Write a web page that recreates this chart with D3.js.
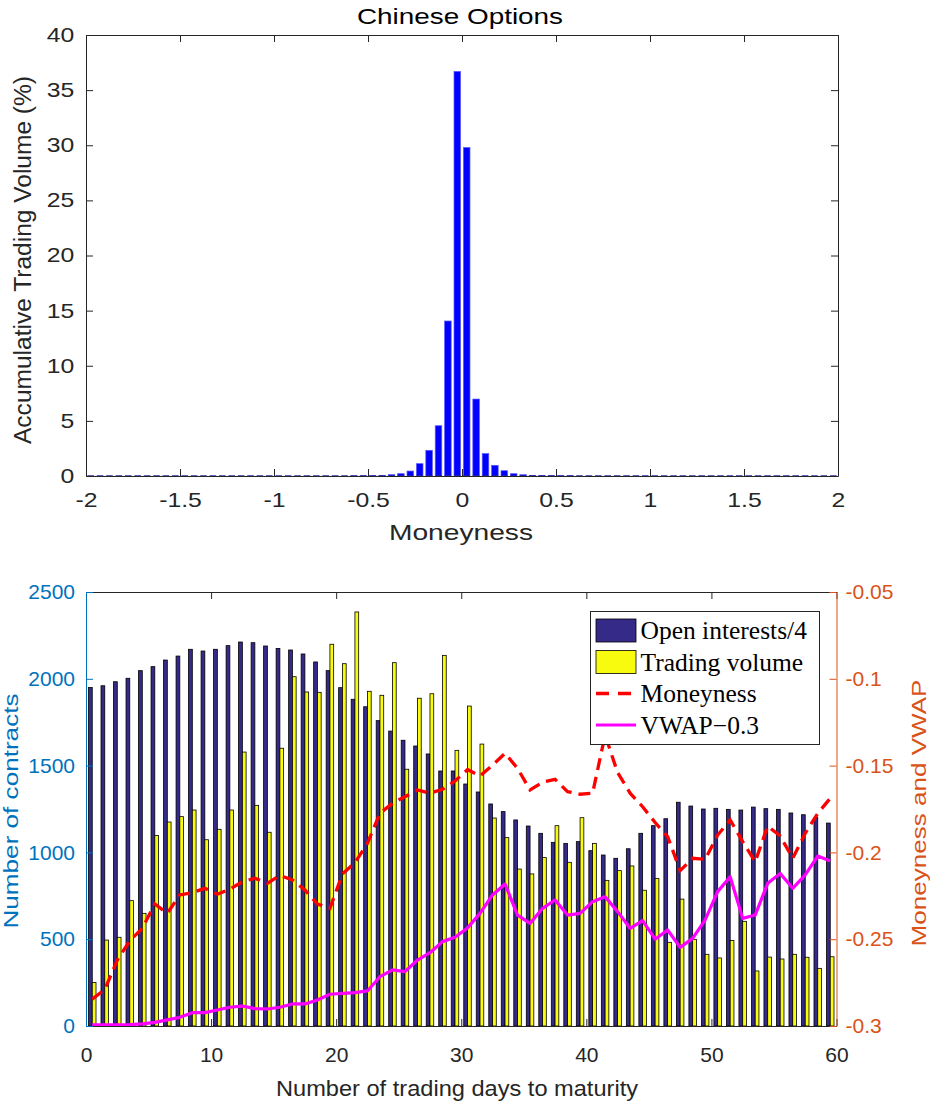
<!DOCTYPE html>
<html>
<head>
<meta charset="utf-8">
<script src="https://cdn.jsdelivr.net/npm/d3@7"></script>
<style>
  body { margin: 0; background: #fff; }
  svg { display: block; }
</style>
</head>
<body>
<svg id="fig" width="930" height="1107"></svg>
<script>
// ---------- Panel 1: trading volume by moneyness bin ----------
const moneynessBins = [
  -1.975,-1.925,-1.875,-1.825,-1.775,-1.725,-1.675,-1.625,-1.575,-1.525,
  -1.475,-1.425,-1.375,-1.325,-1.275,-1.225,-1.175,-1.125,-1.075,-1.025,
  -0.975,-0.925,-0.875,-0.825,-0.775,-0.725,-0.675,-0.625,-0.575,-0.525,
  -0.475,-0.425,-0.375,-0.325,-0.275,-0.225,-0.175,-0.125,-0.075,-0.025,
   0.025, 0.075, 0.125, 0.175, 0.225, 0.275, 0.325, 0.375, 0.425, 0.475,
   0.525, 0.575, 0.625, 0.675, 0.725, 0.775, 0.825, 0.875, 0.925, 0.975,
   1.025, 1.075, 1.125, 1.175, 1.225, 1.275, 1.325, 1.375, 1.425, 1.475,
   1.525, 1.575, 1.625, 1.675, 1.725, 1.775, 1.825, 1.875, 1.925, 1.975
];
const volumeShare = [
  0,0,0,0,0,0,0,0,0,0,
  0,0,0,0,0,0,0,0,0,0,
  0,0,0,0,0,0,0,0,0.01,0.01,
  0.02,0.05,0.12,0.21,0.45,1.12,2.33,4.56,14.06,36.7,
  29.8,6.98,2.03,0.97,0.48,0.21,0.12,0.06,0.03,0.02,
  0.01,0.01,0,0,0,0,0,0,0,0,
  0,0,0,0,0,0,0,0,0,0,
  0,0,0,0,0,0,0,0,0,0
];
const binWidth = 0.05;
const topXTicks = [-2, -1.5, -1, -0.5, 0, 0.5, 1, 1.5, 2];
const topYTicks = [0, 5, 10, 15, 20, 25, 30, 35, 40];

// ---------- Panel 2: contracts, moneyness and VWAP by days to maturity ----------
const days = [
  0.5,1.5,2.5,3.5,4.5,5.5,6.5,7.5,8.5,9.5,
  10.5,11.5,12.5,13.5,14.5,15.5,16.5,17.5,18.5,19.5,
  20.5,21.5,22.5,23.5,24.5,25.5,26.5,27.5,28.5,29.5,
  30.5,31.5,32.5,33.5,34.5,35.5,36.5,37.5,38.5,39.5,
  40.5,41.5,42.5,43.5,44.5,45.5,46.5,47.5,48.5,49.5,
  50.5,51.5,52.5,53.5,54.5,55.5,56.5,57.5,58.5,59.5
];
const openInterestQuarter = [
  1950,1960,1983,2003,2047,2070,2108,2131,2170,2160,
  2170,2191,2212,2208,2189,2175,2166,2143,2097,2047,
  1949,1882,1839,1759,1699,1646,1613,1567,1469,1469,
  1394,1348,1279,1235,1187,1152,1110,1058,1052,1062,
  1010,985,966,1021,1110,1154,1194,1289,1267,1250,
  1254,1248,1244,1261,1252,1248,1227,1217,1202,1169
];
const tradingVolume = [
  251,495,511,722,649,1098,1175,1206,1244,1073,
  1133,1244,1578,1271,1116,1600,2012,1924,1922,2199,
  2087,2385,1928,1905,2093,1479,1888,1914,2135,1588,
  1843,1624,1198,1085,904,876,970,1154,943,1200,
  1052,839,895,922,782,849,482,731,499,413,
  392,492,603,317,397,386,413,396,332,399
];
const moneyness = [
  -0.2845,-0.279,-0.262,-0.2509,-0.2437,-0.2297,-0.2351,-0.2245,-0.2232,-0.2207,
  -0.2241,-0.2212,-0.2169,-0.2149,-0.2178,-0.2132,-0.2159,-0.2217,-0.2297,-0.2322,
  -0.2124,-0.2059,-0.1948,-0.1775,-0.1717,-0.1679,-0.164,-0.1659,-0.1636,-0.1589,
  -0.1523,-0.156,-0.1497,-0.1429,-0.1516,-0.164,-0.1596,-0.1579,-0.165,-0.1665,
  -0.1659,-0.1324,-0.1540,-0.1659,-0.1737,-0.1828,-0.1909,-0.2105,-0.2034,-0.204,
  -0.19,-0.1813,-0.1938,-0.2054,-0.1848,-0.1906,-0.2034,-0.189,-0.1775,-0.1688
];
const vwapShifted = [
  -0.2994,-0.2994,-0.2994,-0.2992,-0.2988,-0.2979,-0.2965,-0.295,-0.2923,-0.2923,
  -0.2908,-0.2892,-0.2885,-0.29,-0.2902,-0.2892,-0.2873,-0.2873,-0.285,-0.2817,
  -0.2812,-0.2808,-0.2798,-0.2716,-0.2677,-0.2687,-0.262,-0.2578,-0.2514,-0.2489,
  -0.2435,-0.2351,-0.2245,-0.2182,-0.2361,-0.2409,-0.2322,-0.2274,-0.2361,-0.2351,
  -0.2284,-0.2255,-0.2341,-0.2437,-0.2393,-0.25,-0.2447,-0.2547,-0.2495,-0.2389,
  -0.2226,-0.214,-0.238,-0.2361,-0.2178,-0.2121,-0.2207,-0.213,-0.2021,-0.205
];
const bottomXTicks = [0, 10, 20, 30, 40, 50, 60];
const leftTicks = [0, 500, 1000, 1500, 2000, 2500];
const rightTicks = [-0.3, -0.25, -0.2, -0.15, -0.1, -0.05];
const legendLabels = ["Open interests/4", "Trading volume", "Moneyness", "VWAP\u22120.3"];

// ---------- shared styling ----------
const SANS = "'Liberation Sans', Arial, Helvetica, sans-serif";
const SERIF = "'Liberation Serif', 'Times New Roman', serif";
const AX = "#262626";
const BLUE_AX = "#0072BD";
const ORANGE_AX = "#D95319";
const NAVY = "#352a87";
const YELLOW = "#f9fb0e";

const svg = d3.select("#fig");

function styleAxis(g, color, fontSize, textScaleX) {
  g.select(".domain").attr("stroke", color).attr("stroke-width", 1);
  g.selectAll(".tick line").attr("stroke", color).attr("stroke-width", 1);
  g.selectAll(".tick text")
    .attr("fill", color)
    .attr("font-family", SANS)
    .attr("font-size", fontSize)
    .attr("transform", textScaleX ? `scale(${textScaleX},1)` : null);
}

// ===== Panel 1 =====
const xT = d3.scaleLinear().domain([-2, 2]).range([86, 838]);
const yT = d3.scaleLinear().domain([0, 40]).range([476, 35]);
const fmt = d => String(d);
const TOP_SCALE = 1.24;

const p1 = svg.append("g");

const bins = moneynessBins.map((m, i) => ({ m, v: volumeShare[i] }));
p1.append("g").selectAll("rect")
  .data(bins.filter(d => d.v > 0))
  .join("rect")
  .attr("x", d => xT(d.m - binWidth * 0.35))
  .attr("width", d => xT(d.m + binWidth * 0.35) - xT(d.m - binWidth * 0.35))
  .attr("y", d => yT(d.v))
  .attr("height", d => yT(0) - yT(d.v))
  .attr("fill", "#0000ff")
  .attr("stroke", "#5a5aff")
  .attr("stroke-width", 0.7);

// bar bases along the zero line
p1.append("g").selectAll("line")
  .data(bins)
  .join("line")
  .attr("x1", d => xT(d.m - binWidth * 0.35))
  .attr("x2", d => xT(d.m + binWidth * 0.35))
  .attr("y1", yT(0)).attr("y2", yT(0))
  .attr("stroke", "#1a1aa0")
  .attr("stroke-width", 1.4);

p1.append("g").attr("transform", `translate(0,${yT(0)})`)
  .call(d3.axisBottom(xT).tickValues(topXTicks).tickFormat(fmt)
    .tickSizeInner(-7).tickSizeOuter(0).tickPadding(17))
  .call(g => styleAxis(g, AX, 20, TOP_SCALE));
p1.append("g").attr("transform", `translate(0,${yT(40)})`)
  .call(d3.axisTop(xT).tickValues(topXTicks).tickFormat("")
    .tickSizeInner(-7).tickSizeOuter(0))
  .call(g => styleAxis(g, AX, 20));
p1.append("g").attr("transform", `translate(${xT(-2)},0)`)
  .call(d3.axisLeft(yT).tickValues(topYTicks).tickFormat(fmt)
    .tickSizeInner(-7).tickSizeOuter(0).tickPadding(9.5))
  .call(g => styleAxis(g, AX, 20, TOP_SCALE));
p1.append("g").attr("transform", `translate(${xT(2)},0)`)
  .call(d3.axisRight(yT).tickValues(topYTicks).tickFormat("")
    .tickSizeInner(-7).tickSizeOuter(0))
  .call(g => styleAxis(g, AX, 20));

p1.append("text")
  .attr("x", 460).attr("y", 24)
  .attr("text-anchor", "middle")
  .attr("font-family", SANS).attr("font-size", 22).attr("fill", "#000")
  .attr("textLength", 206).attr("lengthAdjust", "spacingAndGlyphs")
  .text("Chinese Options");

p1.append("text")
  .attr("x", 461).attr("y", 540)
  .attr("text-anchor", "middle")
  .attr("font-family", SANS).attr("font-size", 22).attr("fill", AX)
  .attr("textLength", 144).attr("lengthAdjust", "spacingAndGlyphs")
  .text("Moneyness");

p1.append("text")
  .attr("transform", "translate(31,260) rotate(-90)")
  .attr("text-anchor", "middle")
  .attr("font-family", SANS).attr("font-size", 23).attr("fill", AX)
  .attr("textLength", 368).attr("lengthAdjust", "spacingAndGlyphs")
  .text("Accumulative Trading Volume (%)");

// ===== Panel 2 =====
const xB = d3.scaleLinear().domain([0, 60]).range([86, 836.5]);
const yL = d3.scaleLinear().domain([0, 2500]).range([1026, 592]);
const yR = d3.scaleLinear().domain([-0.3, -0.05]).range([1026, 592]);

const p2 = svg.append("g");

const groups = days.map((d, i) => ({
  d, oi: openInterestQuarter[i], vol: tradingVolume[i],
  mon: moneyness[i], vwap: vwapShifted[i]
}));

const barW = 0.3;
p2.append("g").selectAll("rect")
  .data(groups)
  .join("rect")
  .attr("x", g => xB(g.d - barW))
  .attr("width", g => xB(g.d) - xB(g.d - barW))
  .attr("y", g => yL(g.oi))
  .attr("height", g => yL(0) - yL(g.oi))
  .attr("fill", NAVY).attr("stroke", "#000").attr("stroke-width", 0.8);

p2.append("g").selectAll("rect")
  .data(groups)
  .join("rect")
  .attr("x", g => xB(g.d))
  .attr("width", g => xB(g.d + barW) - xB(g.d))
  .attr("y", g => yL(g.vol))
  .attr("height", g => yL(0) - yL(g.vol))
  .attr("fill", YELLOW).attr("stroke", "#000").attr("stroke-width", 0.8);

p2.append("path")
  .datum(groups)
  .attr("d", d3.line().x(g => xB(g.d)).y(g => yR(g.mon)))
  .attr("fill", "none").attr("stroke", "#ff0000")
  .attr("stroke-width", 3.3).attr("stroke-dasharray", "12,7");

p2.append("path")
  .datum(groups)
  .attr("d", d3.line().x(g => xB(g.d)).y(g => yR(g.vwap)))
  .attr("fill", "none").attr("stroke", "#ff00ff")
  .attr("stroke-width", 3.2).attr("stroke-linejoin", "round");

p2.append("g").attr("transform", `translate(0,${yL(0)})`)
  .call(d3.axisBottom(xB).tickValues(bottomXTicks).tickFormat(fmt)
    .tickSizeInner(-7).tickSizeOuter(0).tickPadding(21))
  .call(g => styleAxis(g, AX, 21));
p2.append("g").attr("transform", `translate(0,${yL(2500)})`)
  .call(d3.axisTop(xB).tickValues(bottomXTicks).tickFormat("")
    .tickSizeInner(-7).tickSizeOuter(0))
  .call(g => styleAxis(g, AX, 21));
p2.append("g").attr("transform", `translate(${xB(0)},0)`)
  .call(d3.axisLeft(yL).tickValues(leftTicks).tickFormat(fmt)
    .tickSizeInner(-7).tickSizeOuter(0).tickPadding(11))
  .call(g => styleAxis(g, BLUE_AX, 21));
p2.append("g").attr("transform", `translate(${xB(60)},0)`)
  .call(d3.axisRight(yR).tickValues(rightTicks).tickFormat(fmt)
    .tickSizeInner(-7).tickSizeOuter(0).tickPadding(9))
  .call(g => styleAxis(g, ORANGE_AX, 21));

p2.append("text")
  .attr("x", 457).attr("y", 1096)
  .attr("text-anchor", "middle")
  .attr("font-family", SANS).attr("font-size", 22).attr("fill", AX)
  .attr("textLength", 362).attr("lengthAdjust", "spacingAndGlyphs")
  .text("Number of trading days to maturity");

p2.append("text")
  .attr("transform", "translate(18,811) rotate(-90)")
  .attr("text-anchor", "middle")
  .attr("font-family", SANS).attr("font-size", 21).attr("fill", BLUE_AX)
  .attr("textLength", 235).attr("lengthAdjust", "spacingAndGlyphs")
  .text("Number of contracts");

p2.append("text")
  .attr("transform", "translate(926,813) rotate(-90)")
  .attr("text-anchor", "middle")
  .attr("font-family", SANS).attr("font-size", 21).attr("fill", ORANGE_AX)
  .attr("textLength", 267).attr("lengthAdjust", "spacingAndGlyphs")
  .text("Moneyness and VWAP");

// ----- legend -----
const lg = p2.append("g").attr("transform", "translate(590.5,611.5)");
lg.append("rect").attr("width", 229).attr("height", 133)
  .attr("fill", "#fff").attr("stroke", AX).attr("stroke-width", 1);

const rowY = [19, 50.5, 82, 113.5];
lg.append("rect").attr("x", 5.5).attr("y", rowY[0] - 11.5).attr("width", 40).attr("height", 23)
  .attr("fill", NAVY).attr("stroke", "#000").attr("stroke-width", 0.8);
lg.append("rect").attr("x", 5.5).attr("y", rowY[1] - 11.5).attr("width", 40).attr("height", 23)
  .attr("fill", YELLOW).attr("stroke", "#000").attr("stroke-width", 0.8);
lg.append("line").attr("x1", 5.5).attr("x2", 45.5).attr("y1", rowY[2]).attr("y2", rowY[2])
  .attr("stroke", "#ff0000").attr("stroke-width", 3.3).attr("stroke-dasharray", "13,9");
lg.append("line").attr("x1", 5.5).attr("x2", 45.5).attr("y1", rowY[3]).attr("y2", rowY[3])
  .attr("stroke", "#ff00ff").attr("stroke-width", 3.2);

lg.selectAll("text.lbl")
  .data(legendLabels)
  .join("text")
  .attr("class", "lbl")
  .attr("x", 50).attr("y", (d, i) => rowY[i] + 8.5)
  .attr("font-family", SERIF).attr("font-size", 25.5).attr("fill", "#000")
  .text(d => d);
</script>
</body>
</html>
